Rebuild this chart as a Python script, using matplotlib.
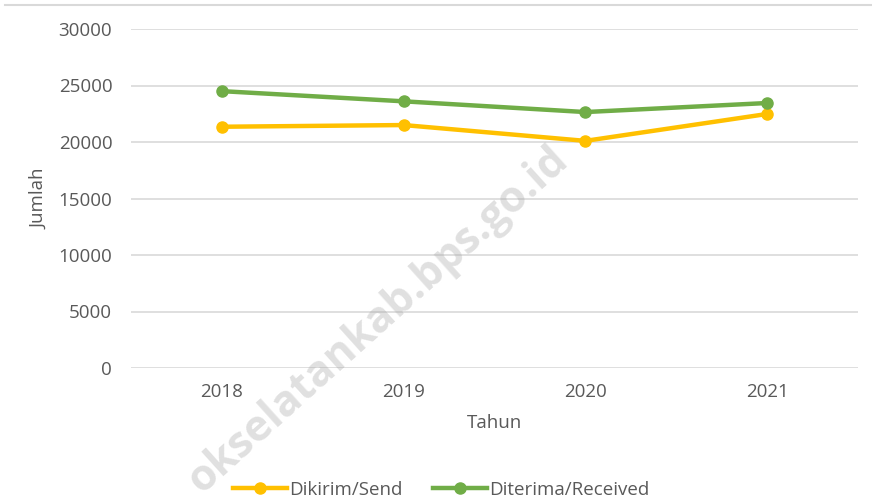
import matplotlib
matplotlib.use("Agg")
import matplotlib.pyplot as plt
from matplotlib.lines import Line2D
import numpy as np

years = ["2018", "2019", "2020", "2021"]
dikirim = [21350, 21500, 20100, 22480]
diterima = [24500, 23600, 22650, 23450]
yticks = [0, 5000, 10000, 15000, 20000, 25000, 30000]

plt.rcParams['font.family'] = ['Open Sans', 'DejaVu Sans']
txt = '#595959'
fs = 13.5

W, H = 872, 503
fig = plt.figure(figsize=(W/100, H/100), dpi=100)
ax = fig.add_axes([131/W, (H-368)/H, (858-131)/W, (368-29)/H])

x = np.arange(len(years))
ax.plot(x, dikirim, color='#FFC000', lw=3.2, marker='o', ms=8, label='Dikirim/Send', zorder=3)
ax.plot(x, diterima, color='#70AD47', lw=3.2, marker='o', ms=8, label='Diterima/Received', zorder=3)

ax.set_xlim(-0.5, 3.5)
ax.set_ylim(0, 30000)
ax.set_yticks(yticks)
ax.set_yticklabels([str(v) for v in yticks])
ax.set_xticks(x)
ax.set_xticklabels(years)
ax.grid(axis='y', color='#d9d9d9', lw=1.2)
ax.set_axisbelow(True)
for s in ax.spines.values():
    s.set_visible(False)
ax.tick_params(axis='both', length=0, labelsize=fs, colors=txt)
ax.tick_params(axis='y', pad=13.5)
ax.tick_params(axis='x', pad=11)
ax.set_ylabel('Jumlah', fontsize=fs, color=txt, labelpad=7)
ax.set_xlabel('Tahun', fontsize=fs, color=txt, labelpad=9)

leg = fig.legend(loc='center', bbox_to_anchor=(441/W, 1-490/H), ncol=2, frameon=False,
                 fontsize=fs, handlelength=2.9, handletextpad=0.1, columnspacing=1.6)
for t in leg.get_texts():
    t.set_color(txt)

fig.add_artist(Line2D([5/W, 1], [1-5/H, 1-5/H], transform=fig.transFigure, color='#d9d9d9', lw=1.5))

fig.text(378/W, 1-320/H, 'okselatankab.bps.go.id', rotation=42, fontsize=31, fontweight='bold',
         color='#a0a0a0', alpha=0.32, ha='center', va='center', zorder=10)

fig.savefig('out.png', dpi=100)
